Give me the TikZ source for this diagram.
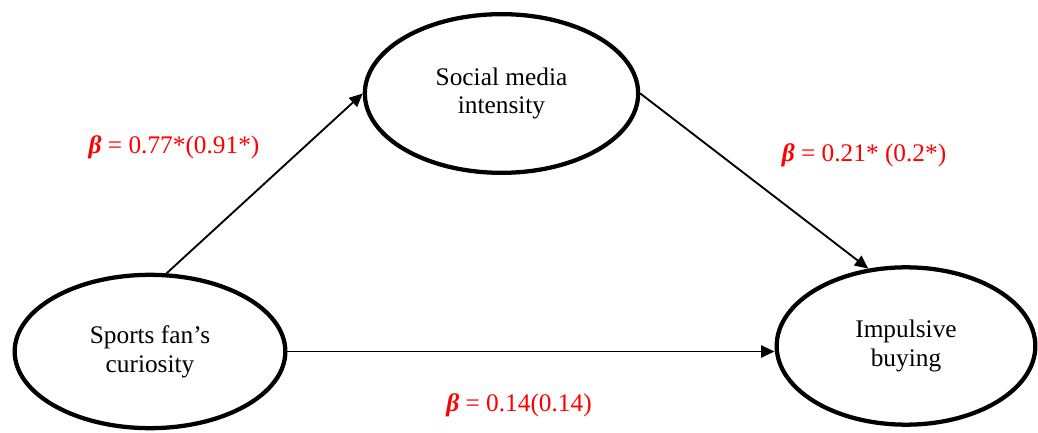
\documentclass[tikz,border=0pt]{standalone}
\usepackage{fontspec}
\setmainfont{Liberation Serif}
\usetikzlibrary{shapes.geometric, arrows.meta}

\begin{document}
\begin{tikzpicture}[x=0.75pt, y=0.75pt,
		construct/.style={draw, ellipse, line width=3.2pt, align=center, font=\fontsize{19}{21.5}\selectfont},
		link/.style={line width=1.4pt, -{Triangle[length=10pt, width=9pt]}},
		coef/.style={text=red, font=\fontsize{19}{21.5}\selectfont}]
		\useasboundingbox (0,0) rectangle (1038,432);
		\node[construct, minimum width=203pt, minimum height=115pt] (sf) at (150,80.5) {Sports fan’s\\curiosity};
		\node[construct, minimum width=205pt, minimum height=119pt] (smi) at (501.5,338.5) {Social media\\intensity};
		\node[construct, minimum width=194pt, minimum height=118pt] (ib) at (906,86) {Impulsive\\buying};
		\draw[link] (sf.78) -- (smi.west);
		\draw[link] (smi.east) -- (ib.116);
		\draw[link] (sf.east) -- (sf.east -| ib.west);
		\node[coef] (b1) at (174,285) {\textbf{\textit{β}} = 0.77*(0.91*)};
		\node[coef] (b2) at (864,277) {\textbf{\textit{β}} = 0.21* (0.2*)};
		\node[coef] (b3) at (519,27) {\textbf{\textit{β}} = 0.14(0.14)};
	\end{tikzpicture}
\end{document}
